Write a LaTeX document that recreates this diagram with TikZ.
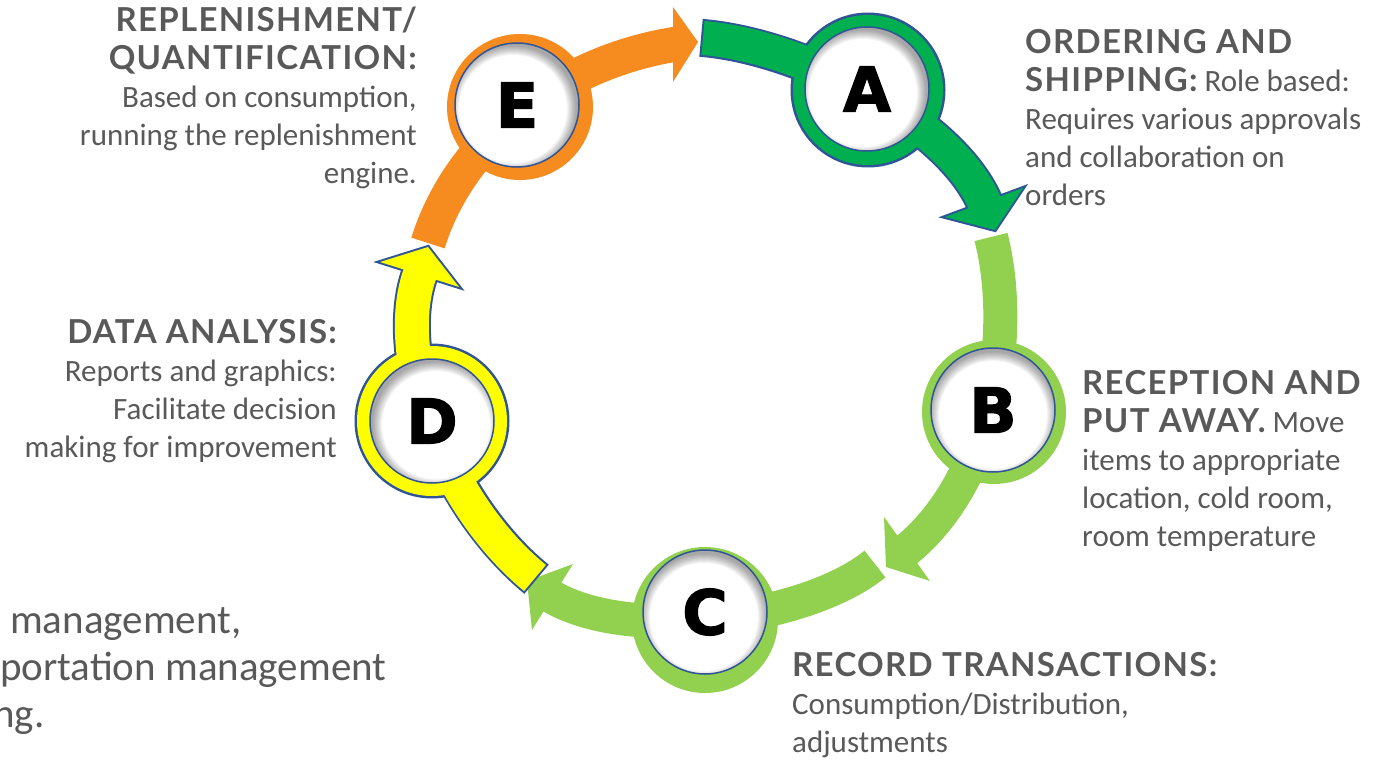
\documentclass[tikz,border=0pt]{standalone}
\usepackage{fontspec}
\setmainfont{Carlito}
\newfontfamily\headfont{Lato}[LetterSpace=4]
\newfontfamily\letterfont{DejaVu Sans}[BoldFeatures={FakeBold=2}]
\usepackage{tikz}
\definecolor{ringorange}{RGB}{246,139,31}
\definecolor{ringgreen}{RGB}{0,176,80}
\definecolor{lightgreen}{RGB}{146,208,80}
\definecolor{ringyellow}{RGB}{255,255,0}
\definecolor{edgeblue}{RGB}{47,85,151}
\definecolor{textgray}{RGB}{89,89,89}
\tikzstyle{ring} = [circle, inner sep=0pt]
\tikzstyle{disc} = [circle, fill=white, draw=edgeblue, line width=1.5pt,
    minimum size=124pt, inner sep=0pt, font=\letterfont\bfseries\fontsize{62}{62}\selectfont]
\tikzstyle{shaft} = [line width=34pt, line cap=butt]
\tikzstyle{desc} = [inner sep=0pt, text=textgray, font=\fontsize{31}{38}\selectfont]
\newcommand{\hd}[1]{{\headfont\bfseries\fontsize{33}{38}\selectfont #1}}
\newcommand{\innershadow}[2]{%
  \foreach \k in {1,...,10}
    \fill[black, opacity=0.04, even odd rule]
      (path picture bounding box.center) circle (70)
      ([shift={(#1,#2)}]path picture bounding box.center) circle ({64-\k});
}

\begin{document}
\begin{tikzpicture}[x=1pt,y=-1pt]
  \useasboundingbox (0,0) rectangle (1377,762);
  % ends of the five arrows
  \coordinate (Etail) at (428,243);  \coordinate (Eend) at (677,44);
  \coordinate (Etip) at (698,42);    \coordinate (Ebarb1) at (673,7);   \coordinate (Ebarb2) at (673,82);
  \coordinate (Atail) at (703,38);   \coordinate (Aend) at (986,206);
  \coordinate (Atip) at (995,230);   \coordinate (Abarb1) at (945,217); \coordinate (Abarb2) at (1023,188);
  \coordinate (Btail) at (991,237);  \coordinate (Bend) at (904,552);
  \coordinate (Btip) at (886,567);   \coordinate (Bbarb1) at (884,517); \coordinate (Bbarb2) at (930,581);
  \coordinate (Ctail) at (875,564);  \coordinate (Cend) at (549,595);
  \coordinate (Ctip) at (527,581);   \coordinate (Cbarb1) at (573,564); \coordinate (Cbarb2) at (532,630);
  \coordinate (Dtail) at (535,578);  \coordinate (Dend) at (421,271);
  \coordinate (Dtip) at (428,247);   \coordinate (Dbarb1) at (380,262); \coordinate (Dbarb2) at (459,287);

  % E: replenishment
  \draw[shaft, ringorange, line width=35pt] (Etail) .. controls (460,140) and (560,62) .. (Eend);
  \fill[ringorange] (Etip) -- (Ebarb1) -- (Ebarb2) -- cycle;
  \node[ring, fill=ringorange, minimum size=146pt] (ringE) at (520,107) {};
  \node[disc, path picture={\innershadow{-4}{4}}] (E) at (517,105) {E};

  % A: ordering and shipping (outlined)
  \draw[shaft, edgeblue, line width=38pt, shorten <=-2pt] (Atail) .. controls (803,46) and (953,123) .. (Aend);
  \filldraw[edgeblue, line width=4pt] (Atip) -- (Abarb1) -- (Abarb2) -- cycle;
  \fill[edgeblue] (868,90) circle (77.5);
  \draw[shaft, ringgreen] (Atail) .. controls (803,46) and (953,123) .. (Aend);
  \fill[ringgreen] (Atip) -- (Abarb1) -- (Abarb2) -- cycle;
  \node[ring, fill=ringgreen, minimum size=150pt] (ringA) at (868,90) {};
  \node[disc, path picture={\innershadow{-4}{4}}] (A) at (867,89) {A};

  % B: reception and put away
  \draw[shaft, lightgreen] (Btail) .. controls (1015,330) and (995,480) .. (Bend);
  \fill[lightgreen] (Btip) -- (Bbarb1) -- (Bbarb2) -- cycle;
  \node[ring, fill=lightgreen, minimum size=144pt] (ringB) at (994,412) {};
  \node[disc, path picture={\innershadow{0}{5}}] (B) at (993,410) {B};

  % C: record transactions
  \draw[shaft, lightgreen] (Ctail) .. controls (805,621) and (626,643) .. (Cend);
  \fill[lightgreen] (Ctip) -- (Cbarb1) -- (Cbarb2) -- cycle;
  \node[ring, fill=lightgreen, minimum size=146pt] (ringC) at (705,620) {};
  \node[disc, path picture={\innershadow{-1}{5}}] (C) at (705,612) {C};

  % D: data analysis (outlined)
  \draw[shaft, edgeblue, line width=38pt, shorten <=-2pt] (Dtail) .. controls (440,500) and (390,350) .. (Dend);
  \filldraw[edgeblue, line width=4pt] (Dtip) -- (Dbarb1) -- (Dbarb2) -- cycle;
  \fill[edgeblue] (432,421) circle (77.5);
  \draw[shaft, ringyellow] (Dtail) .. controls (440,500) and (390,350) .. (Dend);
  \fill[ringyellow] (Dtip) -- (Dbarb1) -- (Dbarb2) -- cycle;
  \node[ring, fill=ringyellow, minimum size=150pt] (ringD) at (432,421) {};
  \node[disc, path picture={\innershadow{4}{4}}] (D) at (432,421) {D};

  % texts (base anchor sits on the last line)
  \node[desc, anchor=base east, align=right] (textE) at (417,184)
    {\hd{REPLENISHMENT/}\\ \hd{QUANTIFICATION:}\\ Based on consumption,\\ running the replenishment\\ engine.};
  \node[desc, anchor=base west, align=left] (textA) at (1025,206)
    {\hd{ORDERING AND}\\ \hd{SHIPPING:} Role based:\\ Requires various approvals\\ and collaboration on\\ orders};
  \node[desc, anchor=base west, align=left] (textB) at (1082,546)
    {\hd{RECEPTION AND}\\ \hd{PUT AWAY.} Move\\ items to appropriate\\ location, cold room,\\ room temperature};
  \node[desc, anchor=base west, align=left] (textC) at (792,752)
    {\hd{RECORD TRANSACTIONS:}\\ Consumption/Distribution,\\ adjustments};
  \node[desc, anchor=base east, align=right] (textD) at (337,457)
    {\hd{DATA ANALYSIS:}\\ Reports and graphics:\\ Facilitate decision\\ making for improvement};
  \node[desc, anchor=base west, align=left, font=\fontsize{41}{47}\selectfont] (textF) at (0,727)
    {\hspace*{10pt}management,\\ portation management\\ \hspace*{-7pt}ng.};
\end{tikzpicture}
\end{document}
